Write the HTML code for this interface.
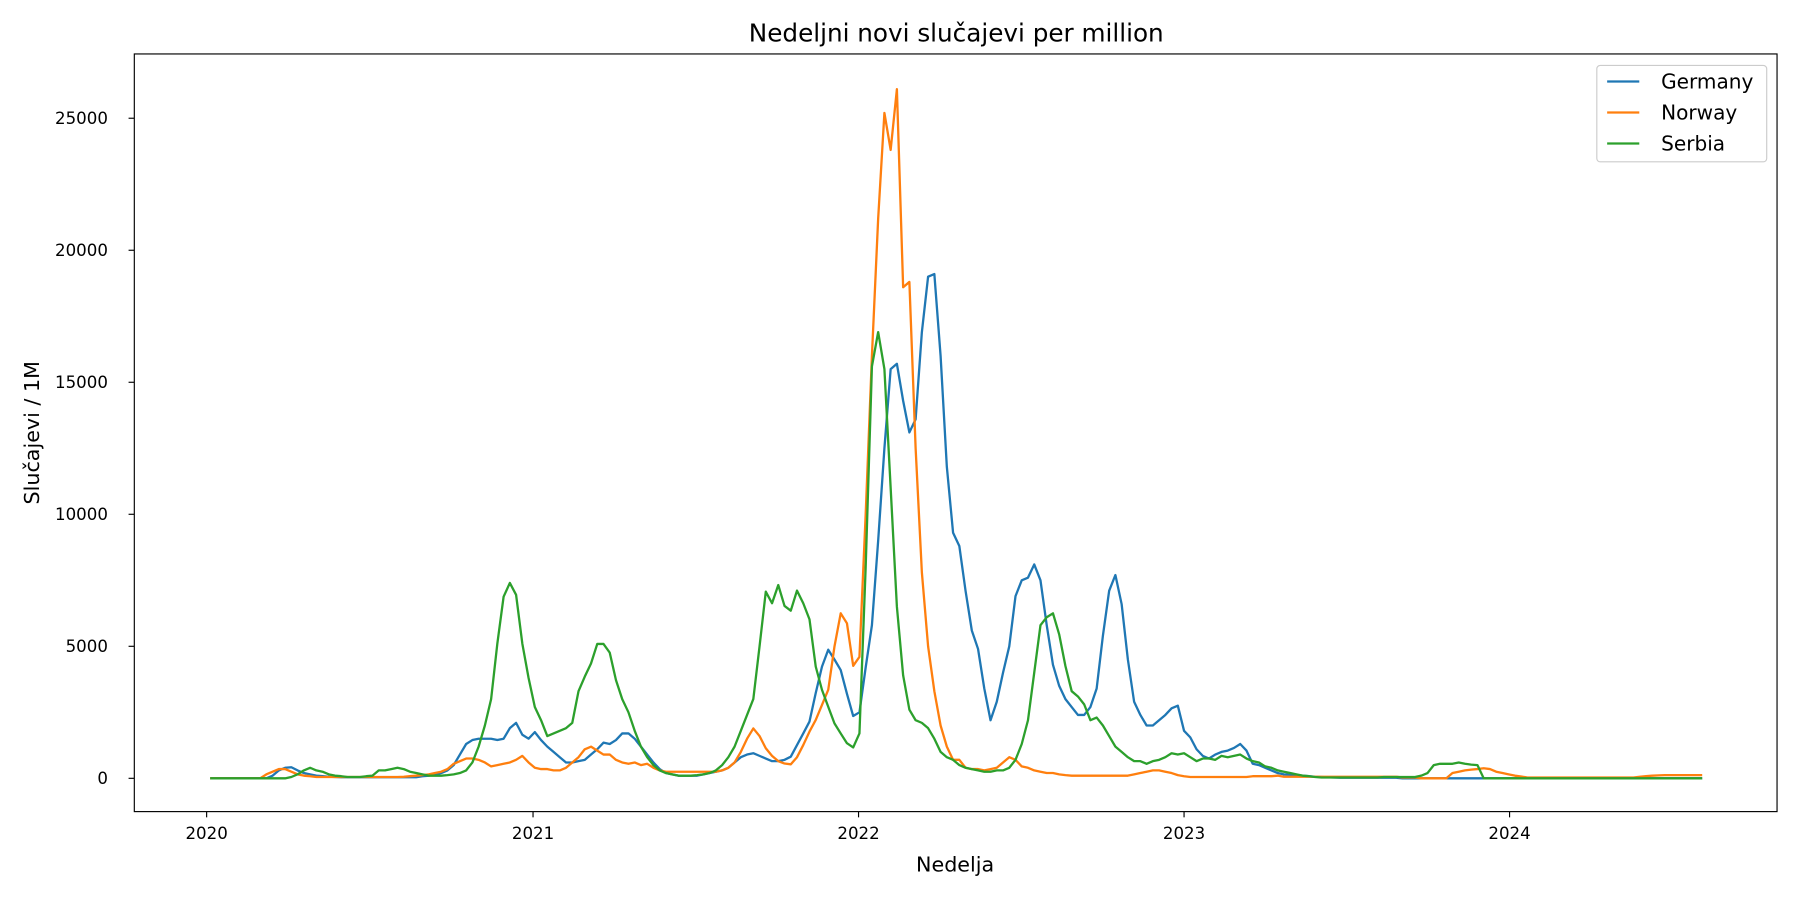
<!DOCTYPE html>
<html><head><meta charset="utf-8"><title>Nedeljni novi slučajevi per million</title>
<style>html,body{margin:0;padding:0;background:#fff;}svg{display:block;}text{font-family:"DejaVu Sans","Liberation Sans",sans-serif;fill:#000;}</style>
</head><body>
<svg id="chart" width="1800" height="900" viewBox="0 0 1568 784" xmlns="http://www.w3.org/2000/svg">
<rect x="0" y="0" width="1568" height="784" fill="#fff"/>
<text x="833" y="36" font-size="21.5" text-anchor="middle">Nedeljni novi slučajevi per million</text>
<g id="plot"></g>
<rect x="117" y="47" width="1431" height="660" fill="none" stroke="#000" stroke-width="1"/>
<g id="xticks"></g>
<g id="yticks"></g>
<text x="832" y="759" font-size="18" text-anchor="middle">Nedelja</text>
<text x="34" y="377" font-size="18" text-anchor="middle" transform="rotate(-90 34 377)">Slučajevi / 1M</text>
<g>
<rect x="1391" y="57" width="148" height="84" rx="3" fill="#fff" fill-opacity="0.8" stroke="#ccc" stroke-width="1"/>
<g><line x1="1400" y1="71" x2="1428" y2="71" stroke="#1f77b4" stroke-width="2"/><text x="1447" y="77" font-size="17.5">Germany</text></g>
<g><line x1="1400" y1="98" x2="1428" y2="98" stroke="#ff7f0e" stroke-width="2"/><text x="1447" y="104" font-size="17.5">Norway</text></g>
<g><line x1="1400" y1="125" x2="1428" y2="125" stroke="#2ca02c" stroke-width="2"/><text x="1447" y="131" font-size="17.5">Serbia</text></g>
</g>
</svg>
<script>
const startDate = "2020-01-05";
const weekCount = 240;
const yTicks = [0, 5000, 10000, 15000, 20000, 25000];
const xTickYears = [2020, 2021, 2022, 2023, 2024];
const germany = [0,0,0,0,0,0,0,0,0,
0,100,300,400,420,300,200,150,100,80,60,50,
40,40,40,40,40,40,40,40,40,40,40,40,40,
80,100,150,200,300,500,900,1300,1450,1500,1500,1500,1450,1500,1900,2100,1650,1500,1750,1450,1200,1000,800,600,600,650,700,900,1100,1350,1300,1450,1700,1700,1500,1200,900,600,350,200,150,100,100,100,100,150,200,250,300,400,600,800,900,950,850,750,650,650,700,820,1260,1700,2150,3230,4230,4870,4500,4100,3200,2360,2500,4200,5800,9000,12500,15500,15700,14300,13100,13600,16900,19000,19100,16000,11800,9300,8800,7100,5600,4900,3400,2200,2900,4000,5000,6900,7500,7600,8100,7500,5800,4300,3500,3000,2700,2400,2400,2700,3400,5400,7100,7700,6600,4500,2900,2400,2000,2000,2200,2400,2650,2750,1800,1550,1100,850,750,900,1000,1050,1150,1300,1050,550,500,400,300,200,150,130,120,100,80,60,50,40,30,
20,20,20,20,20,20,20,20,20,20,
0,0,0,0,0,0,0,0,0,0,0,0,0,0,0,0,0,0,0,0,0,0,0,0,0,0,0,0,0,0,0,0,0,0,0,0,0,0,0,0,0,0,0,0,0,0,0,0,0];
const norway = [0,0,0,0,0,0,0,0,
0,150,250,350,350,250,150,100,80,
50,50,50,50,50,50,50,50,50,50,50,50,50,50,
60,80,100,120,150,200,250,350,550,650,750,750,700,600,450,500,550,600,700,850,600,400,350,350,300,300,400,600,800,1100,1200,1050,900,900,700,600,550,600,500,550,400,300,
250,250,250,250,250,250,250,250,250,
300,400,600,1000,1500,1890,1600,1140,850,650,560,530,800,1260,1770,2210,2780,3350,4990,6250,5870,4260,4600,10000,16000,21200,25200,23800,26100,18600,18800,12500,7800,5000,3300,2000,1200,700,700,400,350,350,300,350,400,600,800,700,450,400,300,250,200,200,150,120,
100,100,100,100,100,100,100,100,100,100,
150,200,250,300,300,250,200,120,80,
50,50,50,50,50,50,50,50,50,50,
80,80,80,80,100,
60,60,60,60,60,60,60,60,60,60,60,60,60,60,60,60,60,60,60,
30,30,30,0,0,0,0,0,
200,250,300,330,350,380,350,250,200,150,100,70,
30,30,30,30,30,30,30,30,30,30,30,30,30,30,30,30,30,30,
60,80,100,110,120,120,120,120,120,120,120];
const serbia = [0,0,0,0,0,0,0,0,0,0,0,0,0,
50,150,300,400,300,250,150,100,80,50,50,50,80,100,300,300,350,400,350,250,200,150,100,100,100,120,150,200,300,600,1200,2000,3000,5110,6880,7400,6950,5100,3800,2700,2200,1600,1700,1800,1900,2100,3300,3850,4350,5090,5090,4760,3720,3000,2500,1800,1200,800,500,300,200,150,100,100,100,120,150,200,300,500,800,1200,1800,2400,3000,5000,7070,6630,7320,6530,6350,7110,6630,6020,4230,3350,2710,2080,1700,1330,1170,1700,8000,15600,16900,15500,11000,6500,3900,2600,2200,2100,1900,1500,1000,800,700,500,400,350,300,250,250,300,300,400,700,1300,2200,4000,5800,6100,6250,5450,4250,3300,3100,2800,2200,2300,2000,1600,1200,1000,800,650,650,550,650,700,800,950,900,950,800,650,750,750,700,850,800,850,900,750,650,600,450,400,300,250,200,150,100,80,50,
30,30,30,30,30,30,30,30,30,30,50,50,50,50,50,50,100,200,500,550,550,550,600,550,520,500,
0,0,0,0,0,0,0,0,0,0,0,0,0,0,0,0,0,0,0,0,0,0,0,0,0,0,0,0,0,0,0,0,0,0,0,0];
const seriesNames = ["Germany", "Norway", "Serbia"];
const seriesColors = ["#1f77b4", "#ff7f0e", "#2ca02c"];

const NS = "http://www.w3.org/2000/svg";
const DAY = 86400000;
const t2020 = Date.UTC(2020, 0, 1);
function xScale(ms) { return 180 + (ms - t2020) / DAY * (1135 / 1461); }
function yScale(v) { return 678 - v * 0.023; }
const t0 = Date.parse(startDate + "T00:00:00Z");
function weekX(i) { return xScale(t0 + i * 7 * DAY); }

const yg = document.getElementById("yticks");
yTicks.forEach(v => {
  const y = yScale(v);
  const l = document.createElementNS(NS, "line");
  l.setAttribute("x1", 112); l.setAttribute("x2", 117); l.setAttribute("y1", y); l.setAttribute("y2", y);
  l.setAttribute("stroke", "#000");
  
  
  yg.appendChild(l);
  const t = document.createElementNS(NS, "text");
  t.setAttribute("x", 94); t.setAttribute("y", y + 5); t.setAttribute("font-size", "14.5"); t.setAttribute("text-anchor", "end");
  t.textContent = String(v);
  
  
  yg.appendChild(t);
});
const xg = document.getElementById("xticks");
xTickYears.forEach(yr => {
  const x = xScale(Date.UTC(yr, 0, 1));
  const l = document.createElementNS(NS, "line");
  l.setAttribute("x1", x); l.setAttribute("x2", x); l.setAttribute("y1", 707); l.setAttribute("y2", 712);
  l.setAttribute("stroke", "#000");
  
  
  xg.appendChild(l);
  const t = document.createElementNS(NS, "text");
  t.setAttribute("x", x); t.setAttribute("y", 731); t.setAttribute("font-size", "14.5"); t.setAttribute("text-anchor", "middle");
  t.textContent = String(yr);
  
  
  xg.appendChild(t);
});
const plot = document.getElementById("plot");
[germany, norway, serbia].forEach((vals, k) => {
  const pts = [];
  for (let i = 0; i < Math.min(vals.length, weekCount); i++) pts.push(weekX(i).toFixed(2) + "," + yScale(vals[i]).toFixed(2));
  const p = document.createElementNS(NS, "polyline");
  p.setAttribute("points", pts.join(" "));
  p.setAttribute("fill", "none");
  p.setAttribute("stroke", seriesColors[k]);
  p.setAttribute("stroke-width", "2");
  p.setAttribute("stroke-linejoin", "round");
  
  
  plot.appendChild(p);
});
</script>
</body></html>
